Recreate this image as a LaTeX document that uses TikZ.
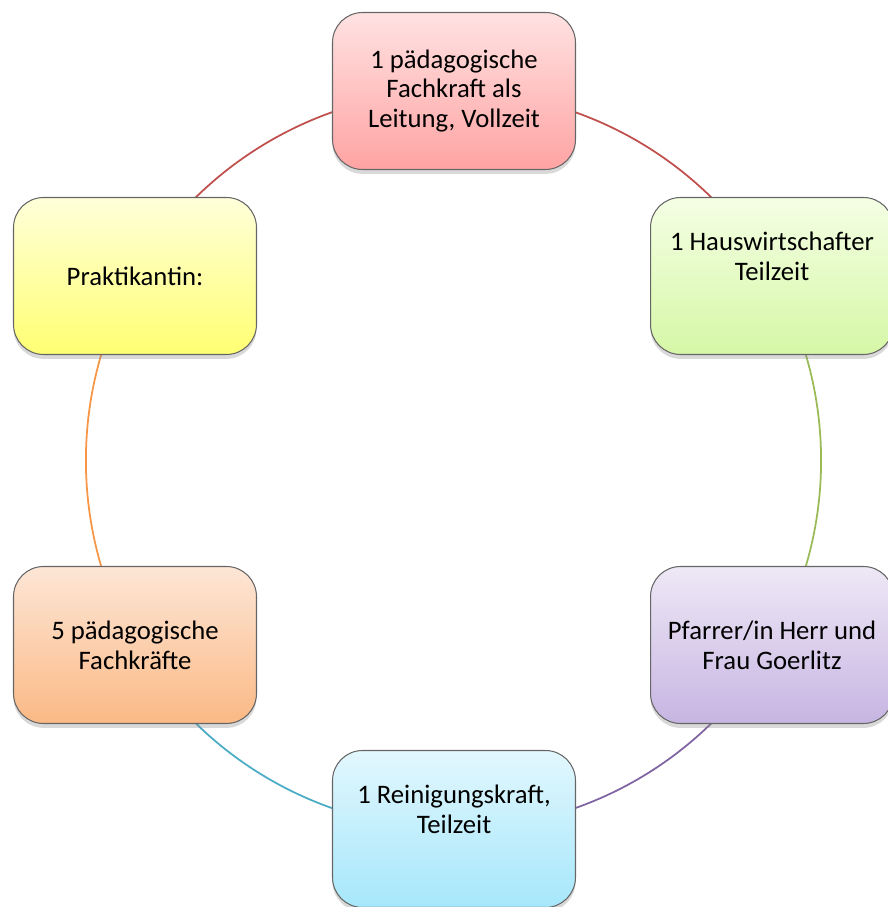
\documentclass[tikz,border=0pt]{standalone}
\usepackage{fontspec}
\setmainfont{Carlito}
\usetikzlibrary{shadows, backgrounds}

\definecolor{redtop}{HTML}{FFE2E2}
\definecolor{redbot}{HTML}{FFA3A3}
\definecolor{greentop}{HTML}{F4FFE4}
\definecolor{greenbot}{HTML}{D6F7A6}
\definecolor{purpletop}{HTML}{EEE8F6}
\definecolor{purplebot}{HTML}{C7B5E2}
\definecolor{bluetop}{HTML}{E2F7FE}
\definecolor{bluebot}{HTML}{A6E7FB}
\definecolor{orangetop}{HTML}{FDE6D6}
\definecolor{orangebot}{HTML}{FBB985}
\definecolor{yellowtop}{HTML}{FFFFDA}
\definecolor{yellowbot}{HTML}{FFFF73}
\definecolor{redline}{HTML}{C0504D}
\definecolor{greenline}{HTML}{9BBB59}
\definecolor{purpleline}{HTML}{8064A2}
\definecolor{blueline}{HTML}{4BACC6}
\definecolor{orangeline}{HTML}{F79646}

\begin{document}
\begin{tikzpicture}[x=0.02cm, y=0.02cm,
    staff/.style={shape=rectangle, draw=black!60, line width=0.6pt,
        rounded corners=0.6cm, minimum width=4.86cm, minimum height=3.14cm,
        align=center, inner sep=2pt,
        font=\fontsize{15.2}{16.9}\selectfont,
        drop shadow={shadow xshift=0pt, shadow yshift=-2.5pt, opacity=0.3}},
    link/.style={line width=1pt, bend left=30, looseness=0.91}]
    \useasboundingbox (0,0) rectangle (887,907);

    \node[staff, top color=redtop, bottom color=redbot] (leitung) at (454,816)
        {1 pädagogische\\Fachkraft als\\Leitung, Vollzeit};
    \node[staff, top color=greentop, bottom color=greenbot, text depth=0.8cm] (haus) at (772,631)
        {1 Hauswirtschafter\\Teilzeit};
    \node[staff, top color=purpletop, bottom color=purplebot] (pfarrer) at (772,262)
        {Pfarrer/in Herr und\\Frau Goerlitz};
    \node[staff, top color=bluetop, bottom color=bluebot, text depth=0.8cm] (reinigung) at (454,78)
        {1 Reinigungskraft,\\Teilzeit};
    \node[staff, top color=orangetop, bottom color=orangebot] (fachkraefte) at (135,262)
        {5 pädagogische\\Fachkräfte};
    \node[staff, top color=yellowtop, bottom color=yellowbot] (praktikant) at (135,631)
        {Praktikantin:};

    % ring behind the boxes
    \begin{pgfonlayer}{background}
        \draw[link, redline] (leitung.center) to (haus.center);
        \draw[link, greenline] (haus.center) to (pfarrer.center);
        \draw[link, purpleline] (pfarrer.center) to (reinigung.center);
        \draw[link, blueline] (reinigung.center) to (fachkraefte.center);
        \draw[link, orangeline] (fachkraefte.center) to (praktikant.center);
        \draw[link, redline] (praktikant.center) to (leitung.center);
    \end{pgfonlayer}
\end{tikzpicture}
\end{document}
